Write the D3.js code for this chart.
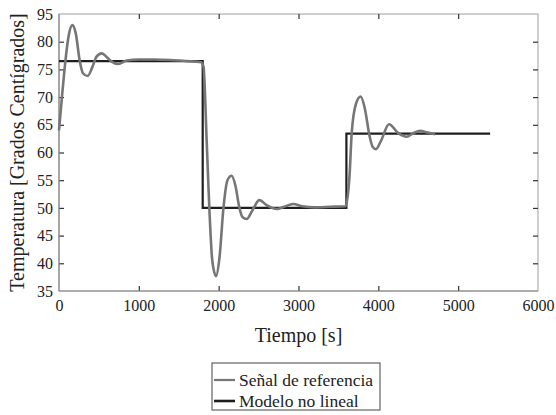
<!DOCTYPE html>
<html>
<head>
<meta charset="utf-8">
<title>Temperatura</title>
<script src="https://d3js.org/d3.v7.min.js"></script>
<style>
body { margin: 0; background: #fff; }
svg text { font-family: "Liberation Serif", "DejaVu Serif", serif !important; fill: #222; }
</style>
</head>
<body>
<script type="text/javascript">

var width = 556,
    height = 415;

var margin = { left: 59, top: 14, right: 18, bottom: 124 };
var w = width - margin.left - margin.right,
    h = height - margin.top - margin.bottom;

// time [s] and temperature of the reference signal
var refTime = [0, 40, 80, 120, 167, 210, 260, 300, 359, 420, 470, 535, 600, 650, 743, 850, 1000, 1200, 1400, 1600, 1780,
  1810, 1850, 1883, 1920, 1967, 2010, 2060, 2110, 2163, 2210, 2260, 2300, 2351, 2420, 2509, 2600, 2727, 2820, 2931, 3050, 3200, 3400, 3590,
  3640, 3666, 3720, 3779, 3830, 3890, 3930, 3971, 4030, 4134, 4250, 4355, 4440, 4522, 4620, 4710];
var refTemp = [64, 70.5, 76.5, 81, 83.0, 81.5, 76.5, 74.3, 73.8, 75.5, 77.3, 77.9, 77.2, 76.5, 76.0, 76.6, 76.8, 76.8, 76.7, 76.5, 76.3,
  75.5, 62, 50, 40.5, 37.7, 41, 50, 55, 55.8, 54, 50, 48.3, 48.0, 49.5, 51.4, 50.5, 49.8, 50.2, 50.7, 50.3, 50.1, 50.2, 50.3,
  56, 63.4, 68.8, 70.1, 68, 63, 61, 60.6, 62, 65.1, 63.5, 62.85, 63.5, 63.9, 63.6, 63.3];

// non-linear model: step levels
var modelTime = [0, 1800, 1800, 3600, 3600, 5400];
var modelTemp = [76.5, 76.5, 50, 50, 63.4, 63.4];

var xTicks = [0, 1000, 2000, 3000, 4000, 5000, 6000];
var yTicks = [35, 40, 45, 50, 55, 60, 65, 70, 75, 80, 85];
var yTickLabels = ["35", "40", "45", "50", "55", "60", "65", "70", "75", "80", "95"];

var seriesNames = ["Señal de referencia", "Modelo no lineal"];
var seriesColors = ["#767676", "#1e1e1e"];

var serif = '"Liberation Serif", "DejaVu Serif", serif';

var svg = d3.select("body").append("svg")
    .attr("width", width)
    .attr("height", height);

var x = d3.scaleLinear().domain([0, 6000]).range([0, w]);
var y = d3.scaleLinear().domain([35, 85]).range([h, 0]);

var g = svg.append("g")
    .attr("transform", "translate(" + margin.left + "," + margin.top + ")");

// box
g.append("rect")
    .attr("width", w)
    .attr("height", h)
    .style("fill", "none")
    .style("stroke", "#b0b0b0")
    .style("stroke-width", 1.2);

function styleAxis(sel) {
  sel.attr("font-family", serif).attr("font-size", 16);
  sel.select(".domain").remove();
  sel.selectAll(".tick line").style("stroke", "#333").style("stroke-width", 1.2);
  sel.selectAll(".tick text")
    .attr("font-family", serif)
    .style("font-family", serif)
    .style("font-size", "16px")
    .attr("fill", "#222");
}

g.append("g")
    .attr("transform", "translate(0," + h + ")")
    .call(d3.axisBottom(x).tickValues(xTicks).tickSize(-5).tickPadding(9).tickFormat(d3.format("d")))
    .call(styleAxis);

g.append("g")
    .call(d3.axisTop(x).tickValues(xTicks).tickSize(-5).tickFormat(""))
    .call(styleAxis);

g.append("g")
    .call(d3.axisLeft(y).tickValues(yTicks).tickSize(-5).tickPadding(6)
      .tickFormat(function(d, i) { return yTickLabels[i]; }))
    .call(styleAxis);

g.append("g")
    .attr("transform", "translate(" + w + ",0)")
    .call(d3.axisRight(y).tickValues(yTicks).tickSize(-5).tickFormat(""))
    .call(styleAxis);

// hide ticks on the box edges
g.selectAll(".tick").filter(function(d) { return d === 0 || d === 6000 || d === 35 || d === 85; })
    .select("line").remove();

// axis lines (left / bottom)
g.append("line").attr("x1", 0).attr("x2", 0).attr("y1", 0).attr("y2", h)
    .style("stroke", "#8a8a8a").style("stroke-width", 1.2);
g.append("line").attr("x1", 0).attr("x2", w).attr("y1", h).attr("y2", h)
    .style("stroke", "#8a8a8a").style("stroke-width", 1.2);

var refData = refTime.map(function(t, i) { return [t, refTemp[i]]; });
var modelData = modelTime.map(function(t, i) { return [t, modelTemp[i]]; });

var smooth = d3.line()
    .x(function(d) { return x(d[0]); })
    .y(function(d) { return y(d[1]); })
    .curve(d3.curveMonotoneX);

var straight = d3.line()
    .x(function(d) { return x(d[0]); })
    .y(function(d) { return y(d[1]); });

g.append("path")
    .datum(modelData)
    .attr("d", straight)
    .style("fill", "none")
    .style("stroke", seriesColors[1])
    .style("stroke-width", 2.2);

g.append("path")
    .datum(refData)
    .attr("d", smooth)
    .style("fill", "none")
    .style("stroke", seriesColors[0])
    .style("stroke-width", 2.6)
    .style("stroke-linejoin", "round");

// axis titles
svg.append("text")
    .attr("x", margin.left + w / 2)
    .attr("y", 341.5)
    .attr("text-anchor", "middle")
    .style("font-size", "20px")
    .text("Tiempo [s]");

svg.append("text")
    .attr("transform", "translate(24," + (margin.top + h / 2) + ") rotate(-90)")
    .attr("text-anchor", "middle")
    .style("font-size", "20px")
    .text("Temperatura [Grados Centígrados]");

// legend
var legend = svg.append("g")
    .attr("transform", "translate(212,363)");

legend.append("rect")
    .attr("width", 168)
    .attr("height", 47)
    .style("fill", "#fff")
    .style("stroke", "#444")
    .style("stroke-width", 1);

var li = legend.selectAll("g.item")
    .data(seriesNames)
    .enter().append("g")
    .attr("class", "item")
    .attr("transform", function(d, i) { return "translate(0," + (17 + i * 21) + ")"; });

li.append("line")
    .attr("x1", 2).attr("x2", 23)
    .style("stroke", function(d, i) { return seriesColors[i]; })
    .style("stroke-width", function(d, i) { return i === 0 ? 2.2 : 2.6; });

li.append("text")
    .attr("x", 27)
    .attr("dy", "0.34em")
    .style("font-size", "17.5px")
    .text(function(d) { return d; });

</script>
</body>
</html>
